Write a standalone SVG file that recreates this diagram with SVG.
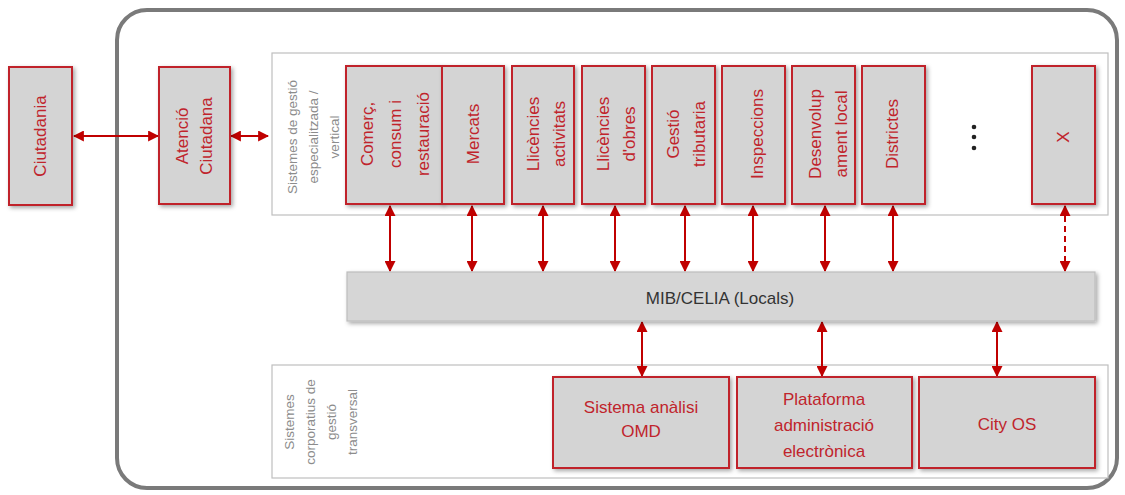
<svg xmlns="http://www.w3.org/2000/svg" width="1125" height="495" viewBox="0 0 1125 495">
<defs>
<style>
.box{fill:#d4d4d4;stroke:#c0242c;stroke-width:2;filter:url(#sh)}
.t{font-family:"Liberation Sans",Arial,sans-serif;font-size:17px;fill:#c0242c;text-anchor:middle;dominant-baseline:central}
.pl{font-family:"Liberation Sans",Arial,sans-serif;font-size:13.5px;fill:#8c8c8c;text-anchor:middle;dominant-baseline:central}
.panel{fill:#fff;stroke:#bfbfbf;stroke-width:1.2}
.c{stroke:#c00000;stroke-width:2;fill:none;marker-start:url(#ah);marker-end:url(#ah)}
.d{stroke-dasharray:6 4}
</style>
<filter id="sh" x="-10%" y="-10%" width="130%" height="130%"><feDropShadow dx="2" dy="2" stdDeviation="2" flood-color="#000" flood-opacity="0.35"/></filter>
<marker id="ah" viewBox="0 0 10 10" refX="9" refY="5" markerWidth="5.5" markerHeight="5.5" orient="auto-start-reverse" markerUnits="strokeWidth"><path d="M0,0 L10,5 L0,10 z" fill="#c00000"/></marker>
</defs>
<rect x="117" y="10" width="1000" height="478" rx="30" fill="#fff" stroke="#7a7a7a" stroke-width="4"/>
<g id="panel-top"><rect class="panel" x="272" y="53" width="836" height="162"/>
<text class="pl" transform="translate(313,137) rotate(-90)"><tspan x="0" dy="-21">Sistemes de gestió</tspan><tspan x="0" dy="21">especialitzada /</tspan><tspan x="0" dy="21">vertical</tspan></text></g>
<g id="panel-bottom"><rect class="panel" x="272" y="365" width="836" height="113"/>
<text class="pl" transform="translate(320,422) rotate(-90)"><tspan x="0" dy="-31.5">Sistemes</tspan><tspan x="0" dy="21">corporatius de</tspan><tspan x="0" dy="21">gestió</tspan><tspan x="0" dy="21">transversal</tspan></text></g>
<g id="connectors">
<line class="c" x1="74" y1="136" x2="158" y2="136"/>
<line class="c" x1="231" y1="136" x2="268" y2="136"/>
<line class="c" x1="390" y1="206" x2="390" y2="271"/>
<line class="c" x1="472" y1="206" x2="472" y2="271"/>
<line class="c" x1="543" y1="206" x2="543" y2="271"/>
<line class="c" x1="615" y1="206" x2="615" y2="271"/>
<line class="c" x1="685" y1="206" x2="685" y2="271"/>
<line class="c" x1="753" y1="206" x2="753" y2="271"/>
<line class="c" x1="825" y1="206" x2="825" y2="271"/>
<line class="c" x1="893" y1="206" x2="893" y2="271"/>
<line class="c d" x1="1065" y1="206" x2="1065" y2="271"/>
<line class="c" x1="642" y1="322" x2="642" y2="376"/>
<line class="c" x1="822" y1="322" x2="822" y2="376"/>
<line class="c" x1="997" y1="322" x2="997" y2="376"/>
</g>
<g id="ciutadania"><rect class="box" x="9" y="67" width="63" height="138"/><text class="t" transform="translate(40,136) rotate(-90)">Ciutadania</text></g>
<g id="atencio"><rect class="box" x="159" y="67" width="71" height="137"/><text class="t" transform="translate(194,136) rotate(-90)"><tspan x="0" dy="-12">Atenció</tspan><tspan x="0" dy="24">Ciutadana</tspan></text></g>
<g id="comerc"><rect class="box" x="346" y="66" width="96" height="138"/><text class="t" transform="translate(395,134) rotate(-90)"><tspan x="0" dy="-28">Comerç,</tspan><tspan x="0" dy="28">consum i</tspan><tspan x="0" dy="28">restauració</tspan></text></g>
<g id="mercats"><rect class="box" x="442" y="66" width="62" height="138"/><text class="t" transform="translate(473,134) rotate(-90)">Mercats</text></g>
<g id="llic-act"><rect class="box" x="512" y="66" width="62" height="138"/><text class="t" transform="translate(546,134) rotate(-90)"><tspan x="0" dy="-13">Llicències</tspan><tspan x="0" dy="26">activitats</tspan></text></g>
<g id="llic-obres"><rect class="box" x="582" y="66" width="63" height="138"/><text class="t" transform="translate(616,134) rotate(-90)"><tspan x="0" dy="-13">Llicències</tspan><tspan x="0" dy="26">d'obres</tspan></text></g>
<g id="gestio"><rect class="box" x="652" y="66" width="63" height="138"/><text class="t" transform="translate(686,134) rotate(-90)"><tspan x="0" dy="-13">Gestió</tspan><tspan x="0" dy="26">tributaria</tspan></text></g>
<g id="inspeccions"><rect class="box" x="722" y="66" width="63" height="138"/><text class="t" transform="translate(757,134) rotate(-90)">Inspeccions</text></g>
<g id="desenvolupament"><rect class="box" x="792" y="66" width="63" height="138"/><text class="t" transform="translate(828,134) rotate(-90)"><tspan x="0" dy="-13">Desenvolup</tspan><tspan x="0" dy="26">ament local</tspan></text></g>
<g id="districtes"><rect class="box" x="862" y="66" width="63" height="138"/><text class="t" transform="translate(892,134) rotate(-90)">Districtes</text></g>
<g id="dots"><circle cx="974" cy="127" r="2.3" fill="#222"/><circle cx="974" cy="137" r="2.3" fill="#222"/><circle cx="974" cy="148" r="2.3" fill="#222"/></g>
<g id="x"><rect class="box" x="1032" y="66" width="63" height="138"/><text class="t" transform="translate(1063,137) rotate(-90)">X</text></g>
<g id="mib"><rect x="347" y="272" width="748" height="49" fill="#d6d6d6" stroke="#bdbdbd" stroke-width="1.2" filter="url(#sh)"/><text x="720" y="298" font-family="'Liberation Sans',Arial,sans-serif" font-size="17" fill="#333" text-anchor="middle" dominant-baseline="central">MIB/CELIA (Locals)</text></g>
<g id="omd"><rect class="box" x="553" y="377" width="176" height="91"/><text class="t" x="641" y="407">Sistema anàlisi</text><text class="t" x="641" y="431">OMD</text></g>
<g id="plataforma"><rect class="box" x="737" y="377" width="175" height="91"/><text class="t" x="824" y="399">Plataforma</text><text class="t" x="824" y="425">administració</text><text class="t" x="824" y="451">electrònica</text></g>
<g id="cityos"><rect class="box" x="919" y="377" width="176" height="91"/><text class="t" x="1007" y="424">City OS</text></g>
</svg>
